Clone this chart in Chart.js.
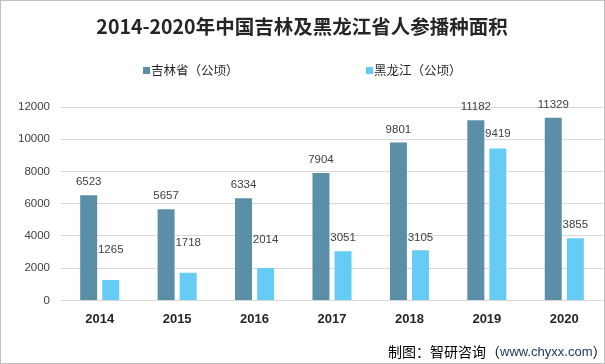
<!DOCTYPE html>
<html>
<head>
<meta charset="utf-8">
<script src="https://cdn.jsdelivr.net/npm/chart.js@4/dist/chart.umd.min.js"></script>
<style>
    html, body { margin: 0; padding: 0; background: #fff; }
    #wrap {
        width: 605px; height: 364px; box-sizing: border-box;
        border: 1px solid #bfbfbf; position: relative; background: #fff;
    }
    canvas { display: block; }
</style>
</head>
<body>
<div id="wrap"><canvas id="chart" width="603" height="362"></canvas></div>
<script>
// Data
const years = ['2014', '2015', '2016', '2017', '2018', '2019', '2020'];
const jilin = [6523, 5657, 6334, 7904, 9801, 11182, 11329];
const heilongjiang = [1265, 1718, 2014, 3051, 3105, 9419, 3855];
const seriesNames = ['吉林省（公顷）', '黑龙江（公顷）'];
const yTicks = [0, 2000, 4000, 6000, 8000, 10000, 12000];

const titleText = '2014-2020年中国吉林及黑龙江省人参播种面积';
const sourceLabel = '制图：智研咨询（';
const sourceSite = 'www.chyxx.com';

const darkColor = '#5b8fa8';
const lightColor = '#66ccf5';

// how far above the bar top each value label sits
const labelLift = [
    [13, 13, 13, 13, 13, 13, 13],
    [30, 30, 28, 13, 13, 15, 13]
];

// Title, legend, source note and value labels
const decorPlugin = {
    id: 'decor',
    afterDatasetsDraw(chart) {
        const ctx = chart.ctx;
        ctx.save();

        // value labels
        ctx.font = '11.5px "Liberation Sans", Arial, sans-serif';
        ctx.fillStyle = '#404040';
        ctx.textAlign = 'center';
        ctx.textBaseline = 'middle';
        chart.data.datasets.forEach((ds, di) => {
            const meta = chart.getDatasetMeta(di);
            meta.data.forEach((bar, i) => {
                ctx.fillText(String(ds.data[i]), bar.x, bar.y - labelLift[di][i]);
            });
        });

        // title
        ctx.font = 'bold 19.5px "Noto Sans CJK SC", sans-serif';
        ctx.fillStyle = '#262626';
        ctx.fillText(titleText, 301, 26);

        // legend
        ctx.font = '12.5px "Noto Sans CJK SC", sans-serif';
        ctx.textAlign = 'left';
        const legendX = [142, 365];
        chart.data.datasets.forEach((ds, di) => {
            ctx.fillStyle = ds.backgroundColor;
            ctx.fillRect(legendX[di], 66, 7, 7);
            ctx.fillStyle = '#262626';
            ctx.fillText(ds.label, legendX[di] + 8, 69.5);
        });

        // source note, written left to right
        let x = 387;
        ctx.font = '14px "Noto Sans CJK SC", sans-serif';
        ctx.fillStyle = '#000';
        ctx.fillText(sourceLabel, x, 351);
        x += ctx.measureText(sourceLabel).width;
        ctx.font = '13px "Liberation Sans", Arial, sans-serif';
        ctx.fillStyle = '#1f3864';
        ctx.fillText(sourceSite, x, 351);
        x += ctx.measureText(sourceSite).width;
        ctx.font = '14px "Noto Sans CJK SC", sans-serif';
        ctx.fillStyle = '#000';
        ctx.fillText('）', x, 351);

        ctx.restore();
    }
};

const ctx = document.getElementById('chart').getContext('2d');
const chart = new Chart(ctx, {
    type: 'bar',
    data: {
        labels: years,
        datasets: [
            {
                label: seriesNames[0],
                data: jilin,
                backgroundColor: darkColor,
                borderWidth: 0
            },
            {
                label: seriesNames[1],
                data: heilongjiang,
                backgroundColor: lightColor,
                borderWidth: 0
            }
        ]
    },
    options: {
        responsive: false,
        animation: false,
        categoryPercentage: 0.57,
        barPercentage: 0.77,
        layout: {
            padding: { top: 106, bottom: 25, left: 0, right: 1 }
        },
        plugins: {
            legend: { display: false },
            title: { display: false },
            tooltip: { enabled: false }
        },
        scales: {
            x: {
                grid: { display: false, drawTicks: false },
                border: { display: true, color: '#d9d9d9' },
                ticks: {
                    padding: 11,
                    maxRotation: 0,
                    autoSkip: false,
                    color: '#262626',
                    font: { family: '"Liberation Sans", Arial, sans-serif', size: 13, weight: 'bold' }
                }
            },
            y: {
                min: 0,
                max: 12000,
                afterFit(scale) { scale.width = 60; },
                afterBuildTicks(scale) { scale.ticks = yTicks.map(v => ({ value: v })); },
                grid: { color: '#d9d9d9', drawTicks: false },
                border: { display: false },
                ticks: {
                    padding: 11,
                    color: '#404040',
                    font: { family: '"Liberation Sans", Arial, sans-serif', size: 11.5 },
                    callback: value => String(value)
                }
            }
        }
    },
    plugins: [decorPlugin]
});
</script>
</body>
</html>
